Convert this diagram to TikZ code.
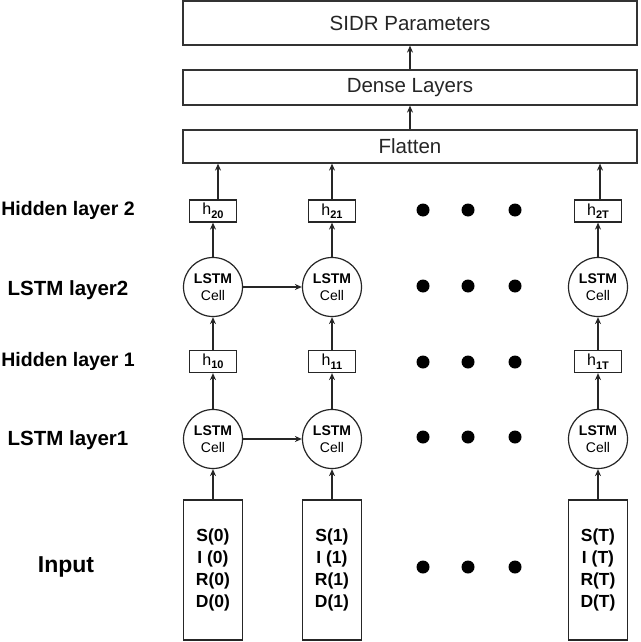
\documentclass[tikz,border=0pt]{standalone}
\usepackage{fontspec}
\setmainfont{Liberation Sans}
\usetikzlibrary{arrows.meta,calc}
\newcommand{\hsub}[1]{h\raisebox{-3.5pt}{\fontsize{11}{11}\selectfont\bfseries #1}}
\begin{document}
\begin{tikzpicture}[x=1pt,y=-1pt,
  line/.style={draw=black!85, line width=1.2pt},
  arr/.style={line, -{Stealth[length=7pt,width=6pt]}},
  topbox/.style={draw=black!80, line width=1.2pt, minimum width=454pt, inner sep=0pt, font=\fontsize{20.5}{22}\selectfont, text=black!85},
  hbox/.style={draw=black!85, line width=1.2pt, minimum width=47pt, minimum height=22pt, inner sep=0pt, font=\fontsize{16}{16}\selectfont},
  cell/.style={circle, draw=black!85, line width=1.2pt, minimum size=59pt, inner sep=0pt, align=center, font=\fontsize{14}{17}\selectfont},
  inbox/.style={draw=black!85, line width=1.2pt, minimum width=59pt, minimum height=140pt, inner sep=0pt, align=center, font=\bfseries\fontsize{17.5}{22}\selectfont},
  lab/.style={font=\bfseries\fontsize{19.5}{22}\selectfont},
  dot/.style={circle, fill=black, minimum size=13pt, inner sep=0pt}
]
\fill[white] (0,0) rectangle (640,642);
\useasboundingbox (0,0) rectangle (640,642);

\node[topbox, minimum height=44pt] (sidr) at (410,23) {SIDR Parameters};
\node[topbox, minimum height=35pt] (dense) at (410,87.5) {Dense Layers};
\node[topbox, minimum height=33pt] (flat) at (410,146.5) {Flatten};
\draw[arr] (dense.north) -- (sidr.south);
\draw[arr] (flat.north) -- (dense.south);

\foreach \n/\x/\o in {0/213/5, 1/332/0, T/598/2}{
  \node[hbox] (h2\n) at (\x,211) {\hsub{2\n}};
  \node[cell] (c2\n) at (\x,287) {\textbf{LSTM}\\Cell};
  \node[hbox] (h1\n) at (\x,361.5) {\hsub{1\n}};
  \node[cell] (c1\n) at (\x,439) {\textbf{LSTM}\\Cell};
  \node[inbox] (in\n) at (\x,570) {S(\n)\\I (\n)\\R(\n)\\D(\n)};
  \draw[arr] (in\n) -- (c1\n.south);
  \draw[arr] (c1\n) -- (h1\n.south);
  \draw[arr] (h1\n) -- (c2\n.south);
  \draw[arr] (c2\n) -- (h2\n.south);
  \draw[arr] ($(h2\n.north)+(\o,0)$) -- ({$(h2\n.north)+(\o,0)$} |- flat.south);
}
\draw[arr] (c20.east) -- (c21.west);
\draw[arr, line width=1.7pt] (c10.east) -- (c11.west);

\foreach \y [count=\r] in {210,286,362,437,567}{
  \foreach \x [count=\k] in {423,468,515}{
    \node[dot] (d\r\k) at (\x,\y) {};
  }
}

\node[lab] (lh2) at (68,210) {Hidden layer 2};
\node[lab, font=\bfseries\fontsize{20.5}{22}\selectfont] (ll2) at (68,290) {LSTM layer2};
\node[lab] (lh1) at (68,361) {Hidden layer 1};
\node[lab, font=\bfseries\fontsize{20.5}{22}\selectfont] (ll1) at (68,440) {LSTM layer1};
\node[lab, font=\bfseries\fontsize{23}{24}\selectfont] (lin) at (66,567) {Input};
\end{tikzpicture}
\end{document}
